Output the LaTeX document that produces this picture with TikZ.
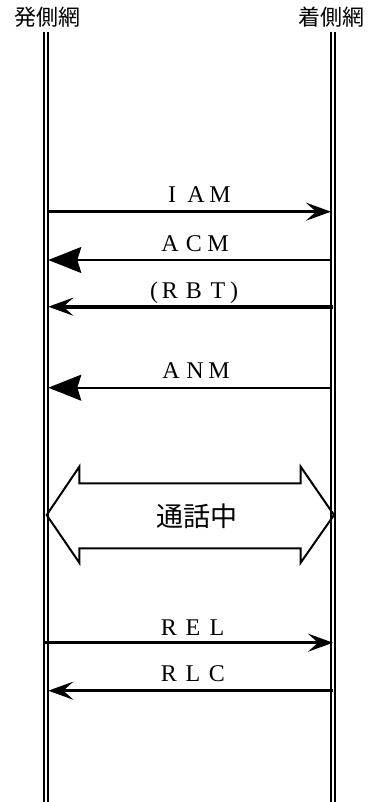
\documentclass[tikz,border=0pt]{standalone}
\usepackage{fontspec}
\setmainfont{Liberation Serif}
\newfontfamily\jpfont{Noto Sans CJK JP}
\usetikzlibrary{arrows.meta}
\newcommand\fwc[1]{\makebox[24pt]{#1}}
\tikzset{
  lifeline/.style={line width=2pt},
  head/.style={font=\jpfont\fontsize{22pt}{22pt}\selectfont, inner sep=0pt, anchor=center},
  msg/.style={font=\fontsize{24pt}{24pt}\selectfont, inner sep=0pt, anchor=base},
  openhead/.style={-{Stealth[length=25pt, width=18pt, inset=10pt]}},
  fullhead/.style={-{Stealth[length=33pt, width=26pt, inset=4pt]}},
  blockarrow/.style={line width=2pt, line join=miter}
}
\begin{document}
\begin{tikzpicture}[x=1pt, y=-1pt]
\useasboundingbox (0,0) rectangle (367,802);
% headings
\node[head] (hl) at (47,17.5) {発側網};
\node[head] (hr) at (331,17.5) {着側網};
% lifelines
\coordinate (l1t) at (44.3,32); \coordinate (l1b) at (44.3,802);
\coordinate (l2t) at (48.3,32); \coordinate (l2b) at (48.3,802);
\coordinate (r1t) at (331,32); \coordinate (r1b) at (331,802);
\coordinate (r2t) at (335,32); \coordinate (r2b) at (335,802);
\draw[lifeline] (l1t) -- (l1b);
\draw[lifeline] (l2t) -- (l2b);
\draw[lifeline] (r1t) -- (r1b);
\draw[lifeline] (r2t) -- (r2b);
% IAM
\coordinate (iamA) at (48.3,211.7); \coordinate (iamB) at (331,211.7);
\draw[line width=3pt, openhead] (iamA) -- (iamB);
\node[msg] (iam) at (196,203) {\fwc{I}\fwc{A}\fwc{M}};
% ACM
\coordinate (acmA) at (331,260); \coordinate (acmB) at (48.3,260);
\draw[line width=2pt, fullhead] (acmA) -- (acmB);
\node[msg] (acm) at (194,251.7) {\fwc{A}\fwc{C}\fwc{M}};
% RBT
\coordinate (rbtA) at (333,306.7); \coordinate (rbtB) at (48.3,306.7);
\draw[line width=4pt, openhead] (rbtA) -- (rbtB);
\node[msg] (rbt) at (194,298) {(\fwc{R}\fwc{B}\fwc{T})};
% ANM
\coordinate (anmA) at (331,387.7); \coordinate (anmB) at (48.3,387.7);
\draw[line width=2pt, fullhead] (anmA) -- (anmB);
\node[msg] (anm) at (195,378.3) {\fwc{A}\fwc{N}\fwc{M}};
% talking block arrow
\draw[blockarrow] (46.7,515) -- (79.3,466.7) -- (79.3,483.3) -- (300.7,483.3) -- (300.7,466.7)
  -- (334,515) -- (300.7,562.7) -- (300.7,548.3) -- (79.3,548.3) -- (79.3,562.7) -- cycle;
\node[font=\jpfont\fontsize{27pt}{27pt}\selectfont, inner sep=0pt] (talk) at (196.7,515.8) {通話中};
% REL
\coordinate (relA) at (45,642.7); \coordinate (relB) at (333,642.7);
\draw[line width=3pt, openhead] (relA) -- (relB);
\node[msg] (rel) at (193,635) {\fwc{R}\fwc{E}\fwc{L}};
% RLC
\coordinate (rlcA) at (333,690.7); \coordinate (rlcB) at (48.3,690.7);
\draw[line width=3pt, openhead] (rlcA) -- (rlcB);
\node[msg] (rlc) at (193,681.7) {\fwc{R}\fwc{L}\fwc{C}};
\end{tikzpicture}
\end{document}
